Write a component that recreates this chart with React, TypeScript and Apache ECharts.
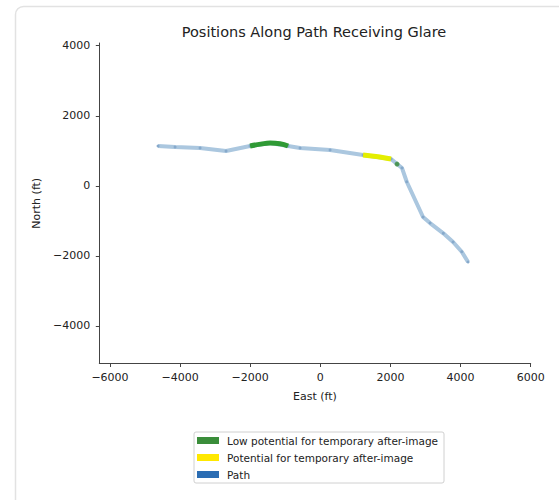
import React, { useEffect, useRef } from "react";
import * as echarts from "echarts";

const xTicks = [-6000, -4000, -2000, 0, 2000, 4000, 6000];
const yTicks = [-4000, -2000, 0, 2000, 4000];

const pathEast = [-4629, -4144, -3431, -2690, -2005, -1435, -921, -579, 277, 1218, 2017, 2188, 2330, 2464, 2929, 3129, 3508, 3785, 4033, 4213];
const pathNorth = [1136, 1107, 1079, 993, 1136, 1221, 1136, 1079, 1022, 879, 765, 622, 508, 117, -890, -1062, -1356, -1604, -1881, -2175];

const lowEast = [-2005, -1700, -1435, -1150, -921];
const lowNorth = [1136, 1190, 1221, 1200, 1136];

const potEast = [1218, 1650, 2017];
const potNorth = [879, 830, 765];

const lowDotEast = [2188];
const lowDotNorth = [622];

const seriesNames = [
  "Low potential for temporary after-image",
  "Potential for temporary after-image",
  "Path",
];

const zip = (a: number[], b: number[]) => a.map((v, i) => [v, b[i]]);
const fmt = (v: number) => String(v).replace("-", "\u2212");

export default function App() {
  const ref = useRef<HTMLDivElement>(null);
  useEffect(() => {
    document.body.style.margin = "0";
    const chart = echarts.init(ref.current!, null, { renderer: "svg" });
    const font = "DejaVu Sans";
    chart.setOption({
      animation: false,
      backgroundColor: "#ffffff",
      title: {
        text: "Positions Along Path Receiving Glare",
        left: 309,
        top: 19,
        textAlign: "center",
        textStyle: { fontFamily: font, fontSize: 14.5, fontWeight: "normal", color: "#222" },
      },
      graphic: [
        {
          type: "rect",
          shape: { x: 15.5, y: 6.5, width: 700, height: 700, r: 8 },
          style: { fill: "none", stroke: "#e2e2e2", lineWidth: 1.5 },
          silent: true,
        },
      ],
      grid: { left: 99.3, right: 28.3, top: 43, bottom: 136.5, containLabel: false },
      xAxis: {
        type: "value",
        min: -6305,
        max: 6000,
        name: "East (ft)",
        nameLocation: "middle",
        nameGap: 27,
        nameTextStyle: { fontFamily: font, fontSize: 11, color: "#222" },
        splitLine: { show: false },
        axisLine: { show: true, onZero: false, lineStyle: { color: "#444", width: 1 } },
        axisTick: { show: true, inside: false, length: 3.5, customValues: xTicks, lineStyle: { color: "#444" } },
        axisLabel: { customValues: xTicks, formatter: fmt, margin: 8, fontFamily: font, fontSize: 11, color: "#222" },
      },
      yAxis: {
        type: "value",
        min: -5071,
        max: 4077,
        name: "North (ft)",
        nameLocation: "middle",
        nameGap: 55,
        nameTextStyle: { fontFamily: font, fontSize: 11, color: "#222" },
        splitLine: { show: false },
        axisLine: { show: true, onZero: false, lineStyle: { color: "#444", width: 1 } },
        axisTick: { show: true, inside: false, length: 3.5, customValues: yTicks, lineStyle: { color: "#444" } },
        axisLabel: { customValues: yTicks, formatter: fmt, margin: 9, fontFamily: font, fontSize: 11, color: "#222" },
      },
      legend: {
        orient: "vertical",
        left: 194,
        top: 432,
        padding: [3, 6, 3, 3],
        itemGap: 6,
        itemWidth: 22,
        itemHeight: 7,
        icon: "rect",
        borderColor: "#d0d0d0",
        borderWidth: 1,
        borderRadius: 2,
        backgroundColor: "#ffffff",
        textStyle: { fontFamily: font, fontSize: 10.5, color: "#222", padding: [0, 0, 0, 3] },
        data: [
          { name: seriesNames[0], itemStyle: { color: "#3a8d3a" } },
          { name: seriesNames[1], itemStyle: { color: "#ffe800" } },
          { name: seriesNames[2], itemStyle: { color: "#2b6db3" } },
        ],
      },
      series: [
        {
          name: seriesNames[2],
          type: "line",
          data: zip(pathEast, pathNorth),
          symbol: "circle",
          symbolSize: 3,
          lineStyle: { color: "#abc7df", width: 4 },
          itemStyle: { color: "#86a9cb" },
          z: 2,
        },
        {
          name: seriesNames[0],
          type: "line",
          data: zip(lowEast, lowNorth),
          symbol: "none",
          smooth: true,
          lineStyle: { color: "#2f9a35", width: 5 },
          itemStyle: { color: "#2f9a35" },
          z: 3,
        },
        {
          name: seriesNames[1],
          type: "line",
          data: zip(potEast, potNorth),
          symbol: "none",
          lineStyle: { color: "#e4ee00", width: 5 },
          itemStyle: { color: "#e4ee00" },
          z: 3,
        },
        {
          name: seriesNames[0],
          type: "scatter",
          data: zip(lowDotEast, lowDotNorth),
          symbolSize: 5,
          itemStyle: { color: "#3a8d3a" },
          z: 4,
        },
      ],
    });
    return () => chart.dispose();
  }, []);
  return <div ref={ref} style={{ width: 559, height: 500 }} />;
}
